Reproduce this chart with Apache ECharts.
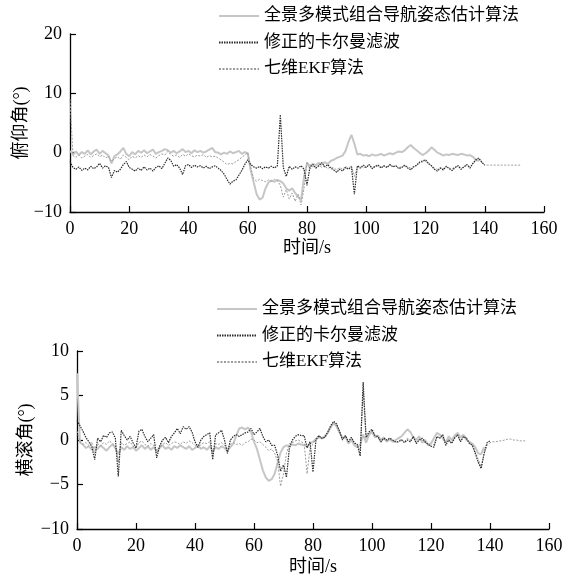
<!DOCTYPE html>
<html>
<head>
<meta charset="utf-8">
<script src="https://cdn.jsdelivr.net/npm/echarts@6/dist/echarts.min.js"></script>
<style>html,body{margin:0;padding:0;background:#fff}#c{width:580px;height:577px}</style>
</head>
<body>
<div id="c"></div>
<script>
// Series names
const names = ['全景多模式组合导航姿态估计算法', '修正的卡尔曼滤波', '七维EKF算法'];
const xTicks = { min: 0, max: 160, interval: 20 };
const pitchTicks = { min: -10, max: 20, interval: 10 };
const rollTicks = { min: -10, max: 10, interval: 5 };

// Pitch (俯仰角), sampled every 1 s starting at t = 0
const pitchA = [
  0.3,-0.3,0.2,-0.4,0.1,-0.2,0.4,-0.3,0.2,0.5,
  -0.2,0.3,-0.1,-0.5,-1.8,-0.6,-0.3,0.2,0.8,-0.2,
  -0.6,0.1,-0.3,0.3,0.0,0.4,-0.1,0.2,0.5,-0.2,
  0.1,0.3,0.6,0.4,0.0,0.3,-0.1,0.2,0.6,0.1,
  0.3,-0.1,0.4,0.1,0.3,0.0,0.2,0.5,0.8,0.1,
  0.0,-0.3,0.0,-0.2,0.2,-0.1,0.1,0.3,-0.2,0.1,
  -0.1,-3.0,-5.0,-7.0,-7.9,-7.6,-6.0,-5.0,-4.7,-4.9,
  -4.6,-4.8,-5.2,-6.0,-6.4,-6.0,-6.8,-7.4,-8.0,-4.0,
  -1.8,-2.2,-1.9,-2.1,-1.7,-2.0,-1.6,-1.9,-1.4,-1.2,
  -0.9,-0.7,-0.5,0.3,1.8,3.0,1.5,-0.3,-0.2,-0.5,
  -0.4,-0.6,-0.3,-0.5,-0.4,-0.2,-0.5,-0.3,-0.1,-0.3,
  0.0,0.2,0.1,0.4,0.9,1.3,0.8,0.4,0.0,-0.4,
  -0.1,0.3,0.9,0.5,0.0,-0.2,-0.5,-0.3,-0.4,-0.2,
  -0.3,-0.4,-0.2,-0.3,-0.5,-0.4,-0.7,-1.2,-1.4
];
const pitchB = [
  -1.5,-2.5,-2.8,-2.4,-3.0,-2.6,-2.9,-2.3,-2.7,-2.4,
  -1.8,-2.6,-2.2,-2.5,-4.2,-3.0,-3.3,-2.8,-2.0,-1.5,
  -2.5,-2.8,-3.1,-2.6,-3.0,-2.4,-2.9,-2.6,-3.1,-2.5,
  -2.2,-2.7,-1.8,-0.9,-1.3,-2.3,-2.0,-2.6,-3.7,-2.2,
  -2.0,-2.5,-2.1,-2.4,-2.2,-2.6,-2.3,-2.7,-2.4,-2.2,
  -2.6,-3.0,-3.6,-4.5,-5.3,-4.8,-4.6,-3.8,-3.0,-2.0,
  -1.2,-2.0,-2.4,-2.6,-2.3,-2.7,-2.4,-2.6,-2.3,-2.6,
  -2.2,6.4,-2.5,-4.0,-2.3,-2.8,-2.4,-2.6,-2.2,-2.8,
  -5.5,-2.4,-2.0,-2.6,-2.2,-1.7,-2.4,-2.0,-2.6,-2.9,
  -3.3,-2.8,-3.1,-2.5,-2.8,-2.4,-7.0,-2.2,-2.6,-2.1,
  -2.5,-2.0,-2.7,-2.3,-2.1,-2.6,-2.2,-2.5,-2.0,-2.4,
  -2.2,-2.7,-2.5,-2.1,-2.6,-2.9,-2.4,-2.1,-1.6,-1.4,
  -1.2,-1.8,-2.2,-2.8,-3.1,-2.6,-2.9,-2.3,-2.7,-3.0,
  -2.5,-2.2,-2.8,-2.4,-2.0,-2.6,-1.8,-1.2,-0.9,-1.6,
  -2.1
];
const pitchC = [
  9.0,-0.5,-0.8,-0.4,-0.9,-0.6,-0.3,-0.8,-0.5,-0.2,
  -0.7,-0.4,-0.9,-0.6,-1.5,-1.0,-0.7,-1.1,-0.4,-0.8,
  -1.2,-0.6,-0.9,-0.5,-0.8,-0.4,-0.7,-0.3,-0.6,-0.9,
  -0.5,-0.2,-0.4,0.2,-0.3,-0.6,-0.4,-0.8,-0.3,-0.6,
  -0.2,-0.5,-0.7,-0.4,-0.6,-0.3,-0.8,-0.5,-0.7,-0.6,
  -0.9,-1.2,-1.6,-2.0,-1.8,-1.9,-1.5,-1.2,-0.8,-0.4,
  0.0,-2.5,-4.4,-4.8,-4.5,-4.7,-4.9,-4.6,-4.8,-4.5,
  -4.7,-5.5,-7.5,-6.2,-7.8,-6.8,-8.2,-7.0,-8.8,-6.0,
  -1.5,-2.8,-2.3,-2.6,-2.1,-2.5,-2.2,-2.7,-2.4,-2.6,
  -2.9,-2.5,-2.8,-2.3,-2.6,-2.2,-4.0,-2.4,-2.3,-2.6,
  -2.3,-2.1,-2.5,-2.4,-2.2,-2.4,-2.3,-2.4,-2.1,-2.3,
  -2.3,-2.5,-2.4,-2.2,-2.4,-2.6,-2.3,-2.2,-1.8,-1.6,
  -1.5,-1.9,-2.2,-2.6,-2.8,-2.5,-2.7,-2.4,-2.6,-2.7,
  -2.4,-2.3,-2.6,-2.4,-2.1,-2.4,-1.9,-1.4,-1.1,-1.7,
  -2.1,-2.1,-2.1,-2.1,-2.1,-2.1,-2.1,-2.1,-2.1,-2.1,
  -2.1,-2.1,-2.1
];

// Roll (横滚角), sampled every 1 s starting at t = 0
const rollA = [
  7.5,-0.3,-0.5,-0.9,-0.7,-1.1,-0.8,-1.0,-0.6,-0.9,
  -1.2,-0.8,-0.5,-0.9,-1.6,-0.8,-1.1,-0.7,-1.0,-0.8,
  -1.2,-0.9,-0.6,-1.0,-0.7,-1.1,-0.8,-1.2,-0.9,-0.6,
  -1.0,-0.8,-1.1,-0.7,-0.9,-0.6,-0.8,-1.0,-0.7,-1.1,
  -0.9,-0.6,-1.0,-0.8,-1.1,-0.7,-1.3,-0.8,-1.0,-0.7,
  -0.9,-1.2,-0.8,-0.4,0.5,1.3,1.4,1.2,1.4,0.9,
  -0.2,-1.0,-2.2,-3.4,-4.2,-4.6,-4.4,-3.8,-2.6,-1.4,
  -0.8,-0.6,-0.7,-0.5,-0.6,-0.4,-0.5,-0.6,-0.7,-0.4,
  -0.2,0.1,0.3,0.2,0.4,0.8,1.4,1.9,1.5,0.8,
  0.2,0.4,-0.4,0.0,-0.6,-0.8,-0.5,0.6,-0.3,0.6,
  0.9,0.3,0.5,0.0,0.3,-0.2,0.1,-0.2,0.0,0.2,
  0.4,0.8,1.2,0.9,0.3,0.0,0.4,-0.3,0.0,-0.5,
  -0.4,0.2,0.8,0.6,0.2,-0.3,0.4,0.0,0.5,0.8,
  0.3,0.6,0.0,-0.2,-0.4,-0.8,-1.5,-1.6,-0.8
];
const rollB = [
  2.2,1.6,1.0,0.3,-0.2,-0.7,-2.2,0.2,-0.2,0.5,
  0.3,0.8,0.9,0.2,-4.1,1.1,0.5,0.0,0.4,-0.3,
  -0.9,1.0,1.2,0.4,-0.2,0.2,0.6,-2.0,-0.7,0.0,
  0.3,-0.3,0.4,0.8,1.3,0.7,1.5,1.2,1.5,0.9,
  -0.2,-0.8,0.0,0.4,0.6,0.8,-2.2,0.6,0.8,1.1,
  0.0,-1.5,0.0,0.4,0.6,0.4,0.6,0.8,0.9,1.3,
  0.6,0.9,1.3,0.4,-0.2,0.0,-0.6,-0.6,-1.7,-3.5,
  -2.8,-4.2,-0.9,0.0,0.4,0.6,0.5,0.5,-0.9,-0.2,
  -3.6,0.0,0.5,0.2,0.3,0.9,1.6,2.1,1.8,1.0,
  0.0,0.5,-0.2,0.3,-0.3,-0.5,-1.8,6.5,0.3,0.9,
  1.2,0.5,0.4,-0.2,0.2,0.0,0.2,0.0,-0.2,-0.2,
  0.0,-0.3,0.0,-0.2,0.4,-0.4,0.0,0.2,-0.2,-0.5,
  -0.7,-0.8,0.4,0.2,0.6,-0.6,0.0,-0.4,0.2,0.6,
  -0.2,0.4,0.2,-0.4,-0.6,-1.5,-2.5,-3.2,-1.5,-0.3,
  -0.1
];
const rollC = [
  1.0,-0.2,-0.5,-0.3,-0.6,-0.2,-1.5,-0.4,-0.7,-0.3,
  -0.5,-0.1,-0.4,-0.6,-2.5,-0.3,-0.6,-0.4,-0.2,-0.7,
  -0.9,-0.3,-0.1,-0.5,-0.7,-0.4,-0.6,-1.5,-0.8,-0.5,
  -0.3,-0.6,-0.4,-0.2,-0.3,-0.5,-0.2,-0.4,-0.1,-0.3,
  -0.6,-0.9,-0.5,-0.3,-0.4,-0.2,-1.6,-0.4,-0.5,-0.3,
  -0.6,-1.0,-0.5,-0.3,-0.5,-0.4,-0.6,-0.3,-0.2,0.1,
  0.0,-0.3,-0.2,-0.5,-0.8,-1.2,-1.0,-1.5,-2.4,-5.2,
  -3.8,-1.5,-0.4,-0.3,-0.1,0.0,-0.2,-0.4,-3.8,-0.8,
  -0.5,0.2,0.5,0.1,0.3,0.8,1.5,2.0,1.7,0.9,
  0.1,0.5,-0.3,0.2,-0.4,-0.6,-1.2,5.5,0.2,0.7,
  1.0,0.4,0.3,-0.3,0.1,-0.1,0.1,-0.1,-0.3,-0.1,
  0.1,-0.2,0.2,0.0,0.3,-0.3,0.1,0.0,-0.3,-0.6,
  -0.6,-0.5,0.3,0.3,0.5,-0.4,0.1,-0.3,0.3,0.5,
  -0.1,0.3,0.3,-0.3,-0.5,-1.3,-2.2,-3.0,-1.6,-0.6,
  -0.3,-0.2,-0.2,-0.1,-0.1,0.0,0.1,0.1,0.0,0.0,
  -0.1,-0.1,-0.1
];

const serif = '"Liberation Serif","Times New Roman",serif';
const mixed = '"Liberation Serif","Noto Sans CJK SC",serif';
const minus = v => String(v).replace('-', '\u2212');
const pairs = arr => arr.map((v, i) => [i, v]);

const styles = [
  { color: '#c6c6c6', width: 2, type: 'solid', z: 2 },
  { color: '#2b2b2b', width: 1.2, type: [1.5, 1], z: 4 },
  { color: '#9c9c9c', width: 1, type: [2, 1.5], z: 3 }
];

function axisCommon() {
  return {
    axisLine: { show: true, onZero: false, lineStyle: { color: '#000', width: 1.3 } },
    axisTick: { show: true, inside: true, length: 6, lineStyle: { color: '#000', width: 1.2 } },
    axisLabel: { color: '#000', fontFamily: serif, fontSize: 18, formatter: minus },
    splitLine: { show: false },
    nameTextStyle: { color: '#000', fontFamily: mixed, fontSize: 18 }
  };
}

function mkSeries(data, idx, grid) {
  const s = styles[idx];
  return {
    name: names[idx], type: 'line', xAxisIndex: grid, yAxisIndex: grid,
    data: pairs(data), symbol: 'none', showSymbol: false, z: s.z,
    lineStyle: { color: s.color, width: s.width, type: s.type },
    itemStyle: { color: s.color }
  };
}

const legendBase = {
  data: names, orient: 'vertical', selectedMode: false,
  itemWidth: 40, itemHeight: 20,
  itemStyle: { opacity: 0 },
  textStyle: { fontSize: 17, fontFamily: mixed, color: '#000', lineHeight: 20 }
};

const option = {
  animation: false,
  backgroundColor: '#fff',
  legend: [
    Object.assign({}, legendBase, { left: 213, top: 1, itemGap: 6.5 }),
    Object.assign({}, legendBase, { left: 211, top: 294, itemGap: 6.5 })
  ],
  grid: [
    { left: 70, right: 36, top: 34, bottom: 365, outerBoundsMode: 'none', containLabel: false },
    { left: 77, right: 31, top: 351, bottom: 48, outerBoundsMode: 'none', containLabel: false }
  ],
  xAxis: [
    Object.assign(axisCommon(), { gridIndex: 0, type: 'value', min: xTicks.min, max: xTicks.max, interval: xTicks.interval,
      name: '时间/s', nameLocation: 'middle', nameGap: 26 }),
    Object.assign(axisCommon(), { gridIndex: 1, type: 'value', min: xTicks.min, max: xTicks.max, interval: xTicks.interval,
      name: '时间/s', nameLocation: 'middle', nameGap: 29 })
  ],
  yAxis: [
    Object.assign(axisCommon(), { gridIndex: 0, type: 'value', min: pitchTicks.min, max: pitchTicks.max, interval: pitchTicks.interval,
      name: '俯仰角(°)', nameLocation: 'middle', nameGap: 40, nameMoveOverlap: false }),
    Object.assign(axisCommon(), { gridIndex: 1, type: 'value', min: rollTicks.min, max: rollTicks.max, interval: rollTicks.interval,
      name: '横滚角(°)', nameLocation: 'middle', nameGap: 42, nameMoveOverlap: false })
  ],
  series: [
    mkSeries(pitchA, 0, 0), mkSeries(pitchB, 1, 0), mkSeries(pitchC, 2, 0),
    mkSeries(rollA, 0, 1), mkSeries(rollB, 1, 1), mkSeries(rollC, 2, 1)
  ]
};

const chart = echarts.init(document.getElementById('c'), null, { renderer: 'canvas' });
chart.setOption(option);
</script>
</body>
</html>
